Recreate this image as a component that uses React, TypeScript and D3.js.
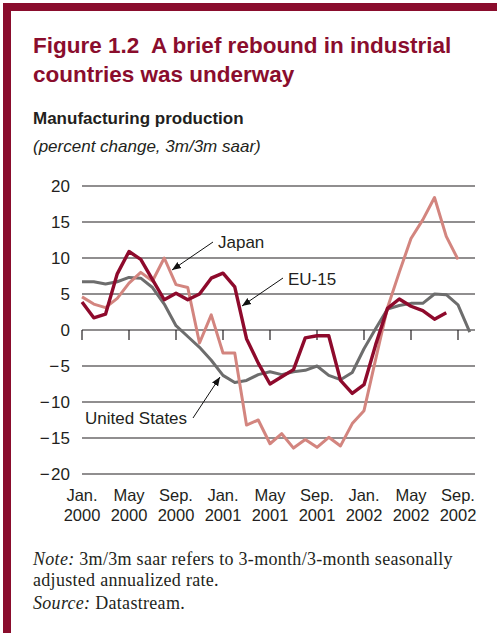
import * as d3 from "d3";

const W = 497;
const H = 633;

// months from Jan. 2000, one value per month
const euValues = [3.9, 1.7, 2.2, 7.8, 10.9, 9.8, 7.0, 4.2, 5.1, 4.2, 5.0, 7.2, 7.9, 6.0, -1.2, -4.6, -7.5, -6.5, -5.5, -1.1, -0.8, -0.8, -7.0, -8.8, -7.6, -2.0, 3.0, 4.3, 3.3, 2.7, 1.5, 2.4];
const japanValues = [4.6, 3.6, 3.1, 4.4, 6.5, 8.0, 6.8, 10.0, 6.3, 5.9, -1.8, 2.1, -3.2, -3.2, -13.2, -12.5, -15.8, -14.4, -16.4, -15.2, -16.3, -14.9, -16.1, -13.0, -11.2, -4.0, 3.1, 8.0, 12.7, 15.3, 18.4, 13.0, 9.8];
const usValues = [6.7, 6.7, 6.4, 6.7, 7.3, 7.2, 5.9, 3.6, 0.6, -0.9, -2.4, -4.2, -6.3, -7.3, -7.0, -6.2, -5.8, -6.2, -5.8, -5.6, -5.0, -6.3, -6.9, -5.9, -2.6, 0.2, 2.9, 3.4, 3.7, 3.7, 5.0, 4.9, 3.5, -0.3];

const yTicks = [20, 15, 10, 5, 0, -5, -10, -15, -20];
const xTickMonths = [0, 4, 8, 12, 16, 20, 24, 28, 32];
const xTickTop = ["Jan.", "May", "Sep.", "Jan.", "May", "Sep.", "Jan.", "May", "Sep."];
const xTickBottom = ["2000", "2000", "2000", "2001", "2001", "2001", "2002", "2002", "2002"];

const crimson = "#8A0D2D";
const euColor = "#8E0A2C";
const japanColor = "#D3857F";
const usColor = "#6D6D6D";

const x = d3.scaleLinear().domain([0, 32]).range([82, 458]);
const y = d3.scaleLinear().domain([-20, 20]).range([474, 186]);

const line = d3
  .line<number>()
  .x((_, i) => x(i))
  .y((d) => y(d));

const fmt = (v: number) => (v < 0 ? `\u2212\u200a${-v}` : `${v}`);

const sans = "'Liberation Sans', Arial, Helvetica, sans-serif";
const serif = "'Liberation Serif', 'Times New Roman', serif";

export default function App() {
  return (
    <svg
      width={W}
      height={H}
      style={{ position: "absolute", left: 0, top: 0, background: "#fff" }}
    >
      <defs>
        <marker
          id="arr"
          viewBox="0 0 10 10"
          refX={10}
          refY={5}
          markerWidth={9}
          markerHeight={9}
          markerUnits="userSpaceOnUse"
          orient="auto"
        >
          <path d="M0,1 L10,5 L0,9 Z" fill="#111" />
        </marker>
      </defs>
      <rect x={0} y={0} width={W} height={H} fill="#fff" />
      {/* frame */}
      <rect x={3} y={3} width={W - 3} height={8} fill={crimson} />
      <rect x={3} y={3} width={8} height={H - 3} fill={crimson} />

      <text x={33} y={53} fontFamily={sans} fontWeight="bold" fontSize={22.5} fill={crimson} style={{ whiteSpace: "pre" }}>
        {"Figure 1.2  A brief rebound in industrial"}
      </text>
      <text x={33} y={82} fontFamily={sans} fontWeight="bold" fontSize={22.5} fill={crimson}>
        countries was underway
      </text>
      <text x={33} y={124} fontFamily={sans} fontWeight="bold" fontSize={17} fill="#231f20">
        Manufacturing production
      </text>
      <text x={33} y={152} fontFamily={sans} fontStyle="italic" fontSize={17} fill="#231f20">
        (percent change, 3m/3m saar)
      </text>

      {/* grid */}
      {yTicks.map((t) => (
        <g key={t}>
          <line x1={82} x2={475} y1={y(t)} y2={y(t)} stroke="#231f20" strokeWidth={1.2} />
          <text x={70} y={y(t)} dy="0.35em" textAnchor="end" fontFamily={sans} fontSize={17} fill="#231f20">
            {fmt(t)}
          </text>
        </g>
      ))}
      {xTickMonths.map((m, i) => (
        <g key={m}>
          <line x1={x(m)} x2={x(m)} y1={y(0)} y2={y(0) + 10} stroke="#231f20" strokeWidth={1.2} />
          <text x={x(m)} y={501} textAnchor="middle" fontFamily={sans} fontSize={16.5} fill="#231f20">
            {xTickTop[i]}
          </text>
          <text x={x(m)} y={521} textAnchor="middle" fontFamily={sans} fontSize={16.5} fill="#231f20">
            {xTickBottom[i]}
          </text>
        </g>
      ))}

      {/* series */}
      <path d={line(usValues) ?? ""} fill="none" stroke={usColor} strokeWidth={3} strokeLinejoin="round" />
      <path d={line(japanValues) ?? ""} fill="none" stroke={japanColor} strokeWidth={3} strokeLinejoin="round" />
      <path d={line(euValues) ?? ""} fill="none" stroke={euColor} strokeWidth={3.4} strokeLinejoin="round" />

      {/* labels */}
      <text x={218} y={248} fontFamily={sans} fontSize={17} fill="#231f20">Japan</text>
      <line x1={213} y1={242} x2={172} y2={270} stroke="#111" strokeWidth={1} markerEnd="url(#arr)" />
      <text x={288} y={285} fontFamily={sans} fontSize={17} fill="#231f20">EU-15</text>
      <line x1={283} y1={278} x2={242} y2={306} stroke="#111" strokeWidth={1} markerEnd="url(#arr)" />
      <text x={85} y={424} fontFamily={sans} fontSize={17} fill="#231f20">United States</text>
      <line x1={193} y1={418} x2={220} y2={377} stroke="#111" strokeWidth={1} markerEnd="url(#arr)" />

      {/* notes */}
      <text x={33} y={565} fontFamily={serif} fontSize={18} letterSpacing={0.3} fill="#231f20">
        <tspan fontStyle="italic">Note:</tspan> 3m/3m saar refers to 3-month/3-month seasonally
      </text>
      <text x={33} y={586} fontFamily={serif} fontSize={18} letterSpacing={0.3} fill="#231f20">
        adjusted annualized rate.
      </text>
      <text x={33} y={609} fontFamily={serif} fontSize={18} letterSpacing={0.3} fill="#231f20">
        <tspan fontStyle="italic">Source:</tspan> Datastream.
      </text>
    </svg>
  );
}
